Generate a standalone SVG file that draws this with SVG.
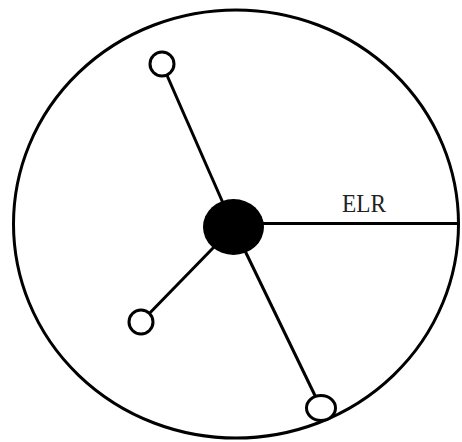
<svg xmlns="http://www.w3.org/2000/svg" width="462" height="442" viewBox="0 0 462 442">
<style>
.ln{stroke:#000;stroke-width:3;fill:none}
.sm{stroke:#000;stroke-width:3;fill:#fff}
.lbl{font-family:"Liberation Serif",serif;font-size:25px;fill:#222}
</style>
<rect width="462" height="442" fill="#fff"/>
<g id="boundary"><ellipse class="ln" cx="236" cy="224" rx="222.5" ry="214"/></g>
<g id="connectors">
<line class="ln" x1="162" y1="64" x2="233.5" y2="227"/>
<line class="ln" x1="141" y1="322" x2="233.5" y2="227"/>
<line class="ln" x1="321" y1="408" x2="233.5" y2="227"/>
<line class="ln" x1="233.5" y1="223.5" x2="459" y2="223.5"/>
</g>
<g id="center"><ellipse cx="233.5" cy="227" rx="30.5" ry="28" fill="#000"/></g>
<g id="node1"><circle class="sm" cx="162" cy="64" r="12"/></g>
<g id="node2"><circle class="sm" cx="141" cy="322" r="12"/></g>
<g id="node3"><ellipse class="sm" cx="321" cy="408" rx="14.5" ry="12.5"/></g>
<g id="label"><text class="lbl" x="342" y="212" textLength="44" lengthAdjust="spacingAndGlyphs">ELR</text></g>
</svg>
